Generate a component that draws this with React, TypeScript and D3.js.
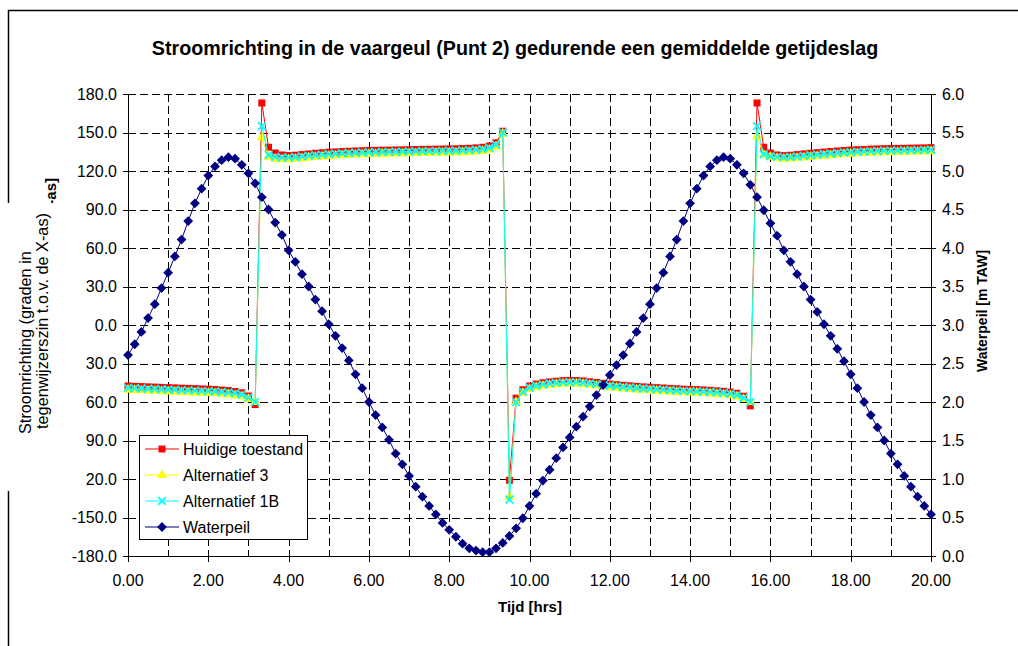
import React from "react";
import * as d3 from "d3";

// ---------- DATA ----------
const TIME_STEP_HRS = 10 / 60; // one sample every 10 minutes, 0.00 .. 20.00 h

const HUIDIGE_TOESTAND = [
  -47.5, -47.8, -48.0, -48.2, -48.4, -48.6, -48.8, -49.0, -49.2, -49.4, -49.6, -49.8, -50.0, -50.3, -50.7, -51.1, -51.8, -52.8, -55.3, -62.0,
  173.0, 138.5, 134.0, 132.5, 132.0, 132.3, 132.8, 133.3, 133.8, 134.2,
  134.6, 134.9, 135.2, 135.4, 135.6, 135.8, 136.0, 136.1, 136.2, 136.3,
  136.4, 136.5, 136.6, 136.7, 136.8, 136.9, 137.0, 137.1, 137.2, 137.3,
  137.5, 137.7, 138.0, 138.5, 139.5, 142.0, 151.0, -121.0, -57.0, -50.5,
  -47.5, -46.0, -45.0, -44.3, -43.8, -43.4, -43.2, -43.3, -43.6, -44.2,
  -44.8, -45.4, -46.0, -46.5, -47.0, -47.4, -47.8, -48.2, -48.5, -48.8,
  -49.1, -49.4, -49.7, -50.0, -50.2, -50.4, -50.6, -50.9, -51.3, -51.7,
  -52.3, -53.2, -55.5, -63.0,
  173.0, 138.5, 134.0, 132.5, 132.0, 132.3,
  132.8, 133.3, 133.8, 134.3, 134.8, 135.2, 135.6, 136.0, 136.3, 136.6,
  136.8, 137.0, 137.2, 137.4, 137.5, 137.6, 137.7, 137.8, 137.9, 138.0,
  138.2,
];

const ALTERNATIEF_3 = [
  -50.5, -50.8, -51.0, -51.2, -51.4, -51.6, -51.8, -52.0, -52.2, -52.4, -52.6, -52.8, -53.0, -53.3, -53.7, -54.1, -54.8, -55.6, -57.8, -60.0,
  146.0, 131.0, 129.5, 129.0, 129.0, 129.4, 129.9, 130.4, 130.9, 131.3,
  131.7, 132.0, 132.3, 132.5, 132.7, 132.9, 133.1, 133.2, 133.3, 133.4,
  133.5, 133.6, 133.7, 133.8, 133.9, 134.0, 134.1, 134.2, 134.3, 134.4,
  134.6, 134.8, 135.1, 135.6, 136.6, 139.0, 149.0, -134.0, -60.0, -53.0,
  -50.0, -48.5, -47.5, -46.8, -46.3, -45.9, -45.7, -45.8, -46.1, -46.7,
  -47.3, -47.9, -48.5, -49.0, -49.5, -49.9, -50.3, -50.7, -51.0, -51.3,
  -51.6, -51.9, -52.2, -52.5, -52.7, -52.9, -53.1, -53.4, -53.8, -54.2,
  -54.8, -55.7, -57.8, -60.0,
  147.0, 132.5, 131.0, 130.0, 129.5, 129.6,
  130.0, 130.5, 131.0, 131.4, 131.9, 132.3, 132.7, 133.1, 133.4, 133.7,
  133.9, 134.1, 134.3, 134.5, 134.6, 134.7, 134.8, 134.9, 135.0, 135.1,
  135.3,
];

const ALTERNATIEF_1B = [
  -49.0, -49.3, -49.5, -49.7, -49.9, -50.1, -50.3, -50.5, -50.7, -50.9, -51.1, -51.3, -51.5, -51.8, -52.2, -52.6, -53.3, -54.2, -56.6, -60.0,
  155.0, 132.5, 131.0, 130.5, 130.5, 130.9, 131.4, 131.9, 132.4, 132.8,
  133.2, 133.5, 133.8, 134.0, 134.2, 134.4, 134.6, 134.7, 134.8, 134.9,
  135.0, 135.1, 135.2, 135.3, 135.4, 135.5, 135.6, 135.7, 135.8, 135.9,
  136.1, 136.3, 136.6, 137.1, 138.1, 140.5, 150.0, -136.0, -60.0, -52.0,
  -48.8, -47.3, -46.3, -45.6, -45.1, -44.7, -44.5, -44.6, -44.9, -45.5,
  -46.1, -46.7, -47.3, -47.8, -48.3, -48.7, -49.1, -49.5, -49.8, -50.1,
  -50.4, -50.7, -51.0, -51.3, -51.5, -51.7, -51.9, -52.2, -52.6, -53.0,
  -53.6, -54.5, -56.8, -60.0,
  155.0, 133.0, 131.5, 131.0, 130.8, 130.9,
  131.3, 131.8, 132.3, 132.7, 133.2, 133.6, 134.0, 134.4, 134.7, 135.0,
  135.2, 135.4, 135.6, 135.8, 135.9, 136.0, 136.1, 136.2, 136.3, 136.4,
  136.6,
];

const WATERPEIL = [
  2.61, 2.75, 2.91, 3.09, 3.27, 3.48, 3.68, 3.89, 4.11, 4.35,
  4.58, 4.77, 4.94, 5.06, 5.14, 5.18, 5.16, 5.08, 4.97, 4.84,
  4.66, 4.50, 4.33, 4.17, 3.97, 3.82, 3.66, 3.50, 3.33, 3.18,
  3.01, 2.86, 2.70, 2.54, 2.36, 2.18, 2.00, 1.83, 1.67, 1.51,
  1.33, 1.19, 1.04, 0.90, 0.77, 0.65, 0.54, 0.43, 0.34, 0.25,
  0.16, 0.10, 0.07, 0.05, 0.05, 0.10, 0.17, 0.26, 0.36, 0.49,
  0.65, 0.81, 0.98, 1.12, 1.27, 1.41, 1.54, 1.68, 1.81, 1.94,
  2.09, 2.22, 2.35, 2.48, 2.61, 2.76, 2.91, 3.09, 3.27, 3.48,
  3.68, 3.89, 4.11, 4.35, 4.58, 4.77, 4.94, 5.06, 5.14, 5.18,
  5.16, 5.08, 4.97, 4.82, 4.66, 4.49, 4.32, 4.16, 3.97, 3.82,
  3.66, 3.50, 3.33, 3.17, 3.01, 2.86, 2.69, 2.53, 2.36, 2.18,
  2.00, 1.83, 1.67, 1.50, 1.33, 1.19, 1.04, 0.90, 0.77, 0.65,
  0.54,
];

const X_TICK_VALUES = [0, 2, 4, 6, 8, 10, 12, 14, 16, 18, 20];
const X_TICK_LABELS = ["0.00", "2.00", "4.00", "6.00", "8.00", "10.00", "12.00", "14.00", "16.00", "18.00", "20.00"];
const X_GRID_VALUES = [1, 2, 3, 4, 5, 6, 7, 8, 9, 10, 11, 12, 13, 14, 15, 16, 17, 18, 19];

const LEFT_TICK_VALUES = [180, 150, 120, 90, 60, 30, 0, -30, -60, -90, -120, -150, -180];
const LEFT_TICK_LABELS = ["180.0", "150.0", "120.0", "90.0", "60.0", "30.0", "0.0", "30.0", "60.0", "90.0", "20.0", "-150.0", "-180.0"];

const RIGHT_TICK_VALUES = [6.0, 5.5, 5.0, 4.5, 4.0, 3.5, 3.0, 2.5, 2.0, 1.5, 1.0, 0.5, 0.0];
const RIGHT_TICK_LABELS = ["6.0", "5.5", "5.0", "4.5", "4.0", "3.5", "3.0", "2.5", "2.0", "1.5", "1.0", "0.5", "0.0"];

const TITLE = "Stroomrichting in de vaargeul (Punt 2) gedurende een gemiddelde getijdeslag";
const X_TITLE = "Tijd [hrs]";
const Y_LEFT_TITLE_LINES = ["Stroomrichting (graden in", "tegenwijzerszin t.o.v. de X-as)"];
const Y_LEFT_HIDDEN_TITLE = "Stroomrichting [graden t.o.v. X-as]";
const Y_RIGHT_TITLE = "Waterpeil [m TAW]";

const SERIES_NAMES = ["Huidige toestand", "Alternatief 3", "Alternatief 1B", "Waterpeil"];

// ---------- LAYOUT ----------
const W = 1018;
const H = 646;
const PL = 128, PR = 931, PT = 94, PB = 556;
const FONT = "'Liberation Sans', Arial, Helvetica, sans-serif";

const x = d3.scaleLinear().domain([0, 20]).range([PL, PR]);
const yL = d3.scaleLinear().domain([-180, 180]).range([PB, PT]);
const yR = d3.scaleLinear().domain([0, 6]).range([PB, PT]);

type Marker = "square" | "triangle" | "x" | "diamond";

function markerPath(kind: Marker): string {
  if (kind === "square") return d3.symbol(d3.symbolSquare, 49)() as string;
  if (kind === "triangle") return d3.symbol(d3.symbolTriangle, 44)() as string;
  if (kind === "x") return "M-3.8,-3.8L3.8,3.8M-3.8,3.8L3.8,-3.8";
  return "M0,-4.9L4.9,0L0,4.9L-4.9,0Z";
}

interface SeriesDef {
  name: string;
  values: number[];
  color: string;
  marker: Marker;
  axis: "left" | "right";
}

const SERIES: SeriesDef[] = [
  { name: SERIES_NAMES[0], values: HUIDIGE_TOESTAND, color: "#FF0000", marker: "square", axis: "left" },
  { name: SERIES_NAMES[1], values: ALTERNATIEF_3, color: "#FFFF00", marker: "triangle", axis: "left" },
  { name: SERIES_NAMES[2], values: ALTERNATIEF_1B, color: "#00FFFF", marker: "x", axis: "left" },
  { name: SERIES_NAMES[3], values: WATERPEIL, color: "#000080", marker: "diamond", axis: "right" },
];

function MarkerShape({ kind, color, tx, ty }: { kind: Marker; color: string; tx: number; ty: number }) {
  const d = markerPath(kind);
  if (kind === "x") {
    return <path d={d} transform={`translate(${tx},${ty})`} stroke={color} strokeWidth={1.8} fill="none" />;
  }
  return <path d={d} transform={`translate(${tx},${ty})`} fill={color} stroke="none" />;
}

function Series({ s }: { s: SeriesDef }) {
  const yScale = s.axis === "left" ? yL : yR;
  const pts = s.values.map((v, i) => [x(i * TIME_STEP_HRS), yScale(v)] as [number, number]);
  const line = d3.line<[number, number]>().x((p) => p[0]).y((p) => p[1]);
  return (
    <g>
      <path d={line(pts) as string} fill="none" stroke={s.color} strokeWidth={1} />
      {pts.map((p, i) => (
        <MarkerShape key={i} kind={s.marker} color={s.color} tx={p[0]} ty={p[1]} />
      ))}
    </g>
  );
}

export default function App() {
  const legendX = 139.5, legendY = 435.5, legendW = 168, legendH = 104;
  return (
    <svg
      width={W}
      height={H}
      viewBox={`0 0 ${W} ${H}`}
      style={{ position: "absolute", left: 0, top: 0, background: "#fff", fontFamily: FONT }}
    >
      <rect x={0} y={0} width={W} height={H} fill="#fff" />
      {/* outer chart frame */}
      <path d={`M8.5,${H}V10.5H${W}`} fill="none" stroke="#000" strokeWidth={1.5} />

      {/* title */}
      <text x={515} y={55} textAnchor="middle" fontSize={19.7} fontWeight="bold" fill="#000">
        {TITLE}
      </text>

      {/* gridlines */}
      <g stroke="#000" strokeWidth={1} strokeDasharray="8,4" shapeRendering="crispEdges">
        {LEFT_TICK_VALUES.filter((v) => v > -180).map((v) => (
          <line key={`h${v}`} x1={PL} x2={PR} y1={Math.round(yL(v)) + 0.5} y2={Math.round(yL(v)) + 0.5} />
        ))}
        {X_GRID_VALUES.map((v) => (
          <line key={`v${v}`} x1={Math.round(x(v)) + 0.5} x2={Math.round(x(v)) + 0.5} y1={PT} y2={PB} />
        ))}
      </g>

      {/* axes */}
      <g stroke="#000" strokeWidth={1} shapeRendering="crispEdges">
        <line x1={PL + 0.5} x2={PL + 0.5} y1={PT} y2={PB} />
        <line x1={PR + 0.5} x2={PR + 0.5} y1={PT} y2={PB} />
        <line x1={PL} x2={PR + 1} y1={PB + 0.5} y2={PB + 0.5} />
        {LEFT_TICK_VALUES.map((v) => (
          <line key={`lt${v}`} x1={PL - 5} x2={PL + 5} y1={Math.round(yL(v)) + 0.5} y2={Math.round(yL(v)) + 0.5} />
        ))}
        {RIGHT_TICK_VALUES.map((v) => (
          <line key={`rt${v}`} x1={PR - 4} x2={PR + 5} y1={Math.round(yR(v)) + 0.5} y2={Math.round(yR(v)) + 0.5} />
        ))}
        {X_TICK_VALUES.map((v) => (
          <line key={`xt${v}`} x1={Math.round(x(v)) + 0.5} x2={Math.round(x(v)) + 0.5} y1={PB - 5} y2={PB + 6} />
        ))}
      </g>

      {/* tick labels */}
      <g fontSize={16} fill="#000">
        {LEFT_TICK_VALUES.map((v, i) => (
          <text key={`ll${i}`} x={117} y={yL(v) + 5.5} textAnchor="end">
            {LEFT_TICK_LABELS[i]}
          </text>
        ))}
        {RIGHT_TICK_VALUES.map((v, i) => (
          <text key={`rl${i}`} x={942} y={yR(v) + 5.5} textAnchor="start">
            {RIGHT_TICK_LABELS[i]}
          </text>
        ))}
        {X_TICK_VALUES.map((v, i) => (
          <text key={`xl${i}`} x={x(v)} y={586} textAnchor="middle">
            {X_TICK_LABELS[i]}
          </text>
        ))}
      </g>

      {/* axis titles */}
      <text x={530} y={612} textAnchor="middle" fontSize={15} fontWeight="bold">
        {X_TITLE}
      </text>
      <text
        transform={`translate(987,311) rotate(-90)`}
        textAnchor="middle"
        fontSize={14}
        fontWeight="bold"
      >
        {Y_RIGHT_TITLE}
      </text>
      <text transform={`translate(56,178) rotate(-90)`} textAnchor="end" fontSize={15} fontWeight="bold">
        {Y_LEFT_HIDDEN_TITLE}
      </text>
      <rect x={0} y={203} width={62} height={288} fill="#fff" />
      <text transform={`translate(31,434) rotate(-90)`} textAnchor="start" fontSize={16.3}>
        {Y_LEFT_TITLE_LINES[0]}
      </text>
      <text transform={`translate(48,429) rotate(-90)`} textAnchor="start" fontSize={16.3}>
        {Y_LEFT_TITLE_LINES[1]}
      </text>

      {/* series */}
      {SERIES.map((s) => (
        <Series key={s.name} s={s} />
      ))}

      {/* legend */}
      <g>
        <rect x={legendX} y={legendY} width={legendW} height={legendH} fill="#fff" stroke="#000" strokeWidth={1} />
        {SERIES.map((s, i) => {
          const cy = 449 + i * 26;
          return (
            <g key={`lg${i}`}>
              <line x1={145} x2={179} y1={cy} y2={cy} stroke={s.color} strokeWidth={1} />
              <MarkerShape kind={s.marker} color={s.color} tx={162} ty={cy} />
              <text x={183} y={cy + 5.5} fontSize={16} fill="#000">
                {s.name}
              </text>
            </g>
          );
        })}
      </g>
    </svg>
  );
}
